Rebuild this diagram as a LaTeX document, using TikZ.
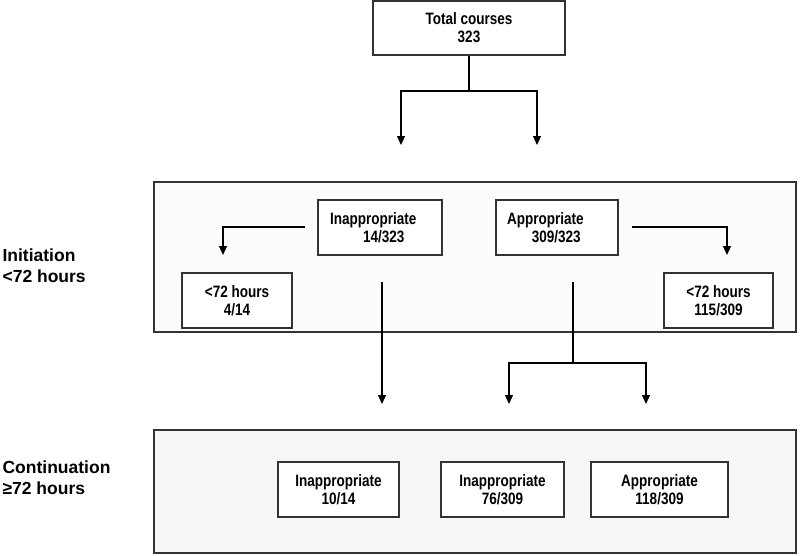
\documentclass[tikz,border=0pt]{standalone}
\usepackage{fontspec}
\setmainfont{Liberation Sans}
\newfontfamily\boxfont{Liberation Sans}[FakeStretch=0.82]
\usepackage{tikz}
\usetikzlibrary{positioning}
\usetikzlibrary{arrows.meta}

\begin{document}
\begin{tikzpicture}[x=1pt,y=-1pt,
  line width=1.1pt,
  panel/.style={draw=black!80,fill=gray!6,inner sep=0pt},
  box/.style={draw=black!80,fill=white,inner sep=0pt,minimum height=55pt,
    align=center,font={\boxfont\bfseries\fontsize{16.5}{18}\selectfont}},
  lbl/.style={anchor=north west,inner sep=0pt,align=left,
    font={\bfseries\fontsize{17.5}{21}\selectfont}},
  arr/.style={-{Triangle[width=8pt,length=9pt]}}]
\useasboundingbox (0,0) rectangle (800,555);

% panels
\node[panel,fill=gray!2,minimum width=642pt,minimum height=150pt] (initpanel) at (475,257) {};
\node[panel,minimum width=642pt,minimum height=123pt] (contpanel) at (475,491.5) {};

\node[lbl] (initlbl) at (2,248) {Initiation\\<72 hours};
\node[lbl] (contlbl) at (2,460) {Continuation\\≥72 hours};

% boxes
\node[box,minimum width=192pt,minimum height=54pt] (total) at (469,28) {Total courses\\323};
\node[box,minimum width=124pt,text width=100pt,align=left] (inapp) at (380,227.5)
  {Inappropriate\\\hspace*{2em}14/323};
\node[box,minimum width=122pt,text width=100pt,align=left] (app) at (557,227.5)
  {Appropriate\\\hspace*{1.5em}309/323};
\node[box,minimum width=110pt] (lessA) at (237,300.5) {<72 hours\\4/14};
\node[box,minimum width=109pt] (lessB) at (718.5,300.5) {<72 hours\\115/309};
\node[box,minimum width=121pt] (contA) at (338.5,489.5) {Inappropriate\\10/14};
\node[box,minimum width=123pt] (contB) at (502.5,489.5) {Inappropriate\\76/309};
\node[box,minimum width=137pt] (contC) at (659.5,489.5) {Appropriate\\118/309};

% connectors
\coordinate (t1) at (469,91);
\coordinate (tL) at (401,145);
\coordinate (tR) at (537,145);
\draw (total) -- (t1);
\draw[arr] (t1) -| (tL);
\draw[arr] (t1) -| (tR);

\coordinate (iL) at (305,227);
\coordinate (aL) at (223,255);
\coordinate (iR) at (632,227);
\coordinate (aR) at (727,255);
\draw[arr] (iL) -| (aL);
\draw[arr] (iR) -| (aR);

\coordinate (dA) at (382,282);
\coordinate (eA) at (382,404);
\draw[arr] (dA) -- (eA);

\coordinate (dB) at (573,282);
\coordinate (s2) at (573,363);
\coordinate (eB) at (509,404);
\coordinate (eC) at (646,404);
\draw (dB) -- (s2);
\draw[arr] (s2) -| (eB);
\draw[arr] (s2) -| (eC);
\end{tikzpicture}
\end{document}
